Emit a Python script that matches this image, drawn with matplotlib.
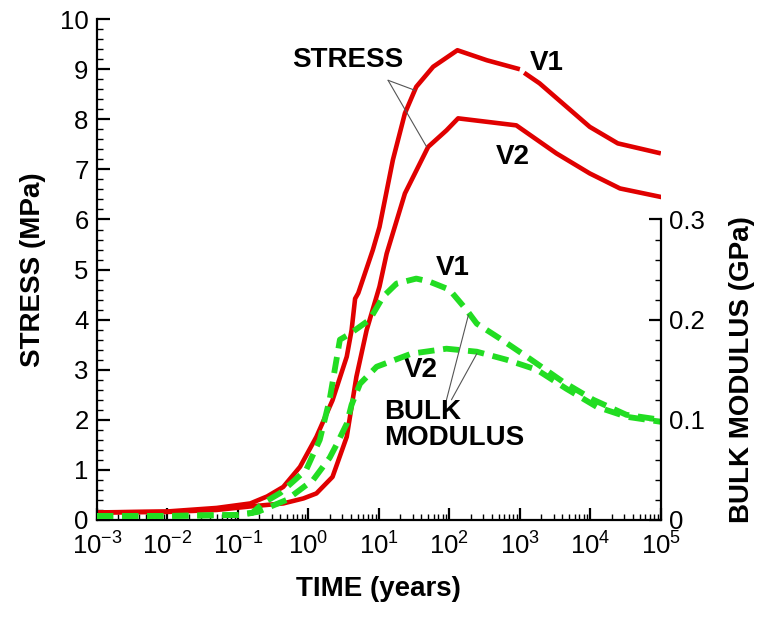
import numpy as np
import matplotlib
matplotlib.use("Agg")
import matplotlib.pyplot as plt
from matplotlib.ticker import LogLocator, MultipleLocator, NullFormatter, FixedLocator

plt.rcParams['font.family'] = ['Liberation Sans', 'DejaVu Sans']
plt.rcParams['mathtext.fontset'] = 'custom'
plt.rcParams['mathtext.rm'] = 'Liberation Sans'
plt.rcParams['mathtext.default'] = 'regular'

# stress (MPa) vs time (years)
t_s1 = [1e-3, 1e-2, 5e-2, 0.15, 0.26, 0.44, 0.76, 1.3, 2.2, 3.5, 4.1, 4.6, 5.1,
        8.2, 10.2, 15.8, 23.4, 33.9, 58.9, 130, 340, 1000, 1900, 9800, 24500, 1e5]
s_v1 = [0.15, 0.17, 0.24, 0.33, 0.47, 0.66, 1.06, 1.66, 2.39, 3.26, 3.79, 4.42, 4.53,
        5.39, 5.85, 7.19, 8.12, 8.65, 9.05, 9.38, 9.18, 9.0, 8.72, 7.85, 7.52, 7.32]
t_s2 = [1e-3, 1e-2, 5e-2, 0.15, 0.44, 0.85, 1.3, 2.2, 3.5, 4.8, 6.7, 10.2, 12.9,
        23.4, 50, 91, 133, 890, 3300, 9800, 26300, 1e5]
s_v2 = [0.15, 0.16, 0.2, 0.27, 0.33, 0.43, 0.53, 0.86, 1.66, 2.86, 3.79, 4.66, 5.32,
        6.52, 7.45, 7.78, 8.02, 7.88, 7.32, 6.92, 6.62, 6.45]

# bulk modulus (GPa) vs time (years)
t_k1 = [1e-3, 1e-2, 0.1, 0.16, 0.23, 0.40, 0.93, 1.45, 2.0, 2.8, 3.9, 7.4, 11.5,
        17.8, 33.9, 52, 100, 174, 245, 525, 1380, 4070, 11000, 32400, 1e5]
k_v1 = [0.004, 0.004, 0.005, 0.007, 0.017, 0.027, 0.05, 0.08, 0.12, 0.18, 0.186, 0.2, 0.223,
        0.236, 0.241, 0.238, 0.23, 0.21, 0.196, 0.181, 0.161, 0.138, 0.12, 0.105, 0.1]
t_k2 = [1e-3, 1e-2, 0.1, 0.19, 0.49, 1.17, 2.0, 2.5, 3.5, 4.1, 5.4, 9.3,
        28.8, 91, 245, 646, 1740, 4570, 12300, 33000, 1e5]
k_v2 = [0.004, 0.004, 0.005, 0.008, 0.02, 0.04, 0.062, 0.075, 0.096, 0.115, 0.136, 0.153,
        0.166, 0.171, 0.168, 0.16, 0.15, 0.131, 0.113, 0.103, 0.098]

red = '#e00000'
green = '#22dd22'

fig = plt.figure(figsize=(7.57, 6.19), dpi=100)
ax = fig.add_axes([0.128, 0.160, 0.745, 0.809])
ax2 = ax.twinx()

# V1 stress drawn in two parts (small break by its label)
n = t_s1.index(1000)
ax.plot(t_s1[:n + 1], s_v1[:n + 1], color=red, lw=3.3, solid_capstyle='butt')
ax.plot([1150] + t_s1[n + 1:], [8.93] + s_v1[n + 1:], color=red, lw=3.3, solid_capstyle='butt')
ax.plot(t_s2, s_v2, color=red, lw=3.3)

ax2.plot(t_k1, k_v1, color=green, lw=4.2, dashes=(2.8, 1.5))
ax2.plot(t_k2, k_v2, color=green, lw=4.2, dashes=(2.8, 1.5))

ax.set_xscale('log')
ax.set_xlim(1e-3, 1e5)
ax.set_ylim(0, 10)
ax2.set_ylim(0, 0.5)

ax.xaxis.set_major_locator(LogLocator(base=10, numticks=20))
ax.xaxis.set_minor_locator(LogLocator(base=10, subs=np.arange(2, 10), numticks=100))
ax.xaxis.set_minor_formatter(NullFormatter())
ax.yaxis.set_major_locator(MultipleLocator(1))
ax.yaxis.set_minor_locator(MultipleLocator(0.2))

ax2.yaxis.set_major_locator(FixedLocator([0, 0.1, 0.2, 0.3]))
ax2.yaxis.set_minor_locator(FixedLocator([0.02, 0.04, 0.06, 0.08, 0.12, 0.14, 0.16, 0.18,
                                          0.22, 0.24, 0.26, 0.28]))
ax2.set_yticklabels(['0', '0.1', '0.2', '0.3'])

for a in (ax, ax2):
    a.tick_params(which='major', direction='in', length=9, width=1.6, labelsize=18.5, pad=6)
    a.tick_params(which='minor', direction='in', length=4.5, width=1.0)
    a.spines['top'].set_visible(False)
ax.tick_params(axis='x', which='major', pad=9)
ax.spines['right'].set_visible(False)
ax2.spines['left'].set_visible(False)
ax2.spines['bottom'].set_visible(False)
ax.spines['left'].set_linewidth(1.6)
ax.spines['bottom'].set_linewidth(1.6)
ax2.spines['right'].set_linewidth(1.6)
ax2.spines['right'].set_bounds(0, 0.3)

ax.set_xlabel('TIME (years)', fontsize=20, fontweight='bold', labelpad=12)
ax.set_ylabel('STRESS (MPa)', fontsize=20, fontweight='bold', labelpad=10)
ax2.set_ylabel('BULK MODULUS (GPa)', fontsize=20, fontweight='bold')
ax2.yaxis.set_label_coords(1.12, 0.30)

tf = dict(fontsize=20, fontweight='bold', ha='center', va='center')
ax.text(3.67, 9.18, 'STRESS', **tf)
ax.text(2400, 9.12, 'V1', **tf)
ax.text(795, 7.25, 'V2', **tf)
ax.text(112, 5.03, 'V1', **tf)
ax.text(39.5, 2.99, 'V2', **tf)
ax.text(11.8, 1.9, 'BULK\nMODULUS', fontsize=20, fontweight='bold', ha='left',
        va='center', linespacing=1.0)

lk = dict(arrowprops=dict(arrowstyle='-', color='#555555', lw=0.8, shrinkA=0, shrinkB=0))
ax.annotate('', xy=(32.5, 8.58), xytext=(13.5, 8.78), **lk)
ax.annotate('', xy=(47.6, 7.45), xytext=(13.5, 8.78), **lk)
ax2.annotate('', xy=(186, 0.2045), xytext=(91, 0.12), **lk)
ax2.annotate('', xy=(245, 0.166), xytext=(107, 0.12), **lk)

fig.savefig('out.png', dpi=100)
